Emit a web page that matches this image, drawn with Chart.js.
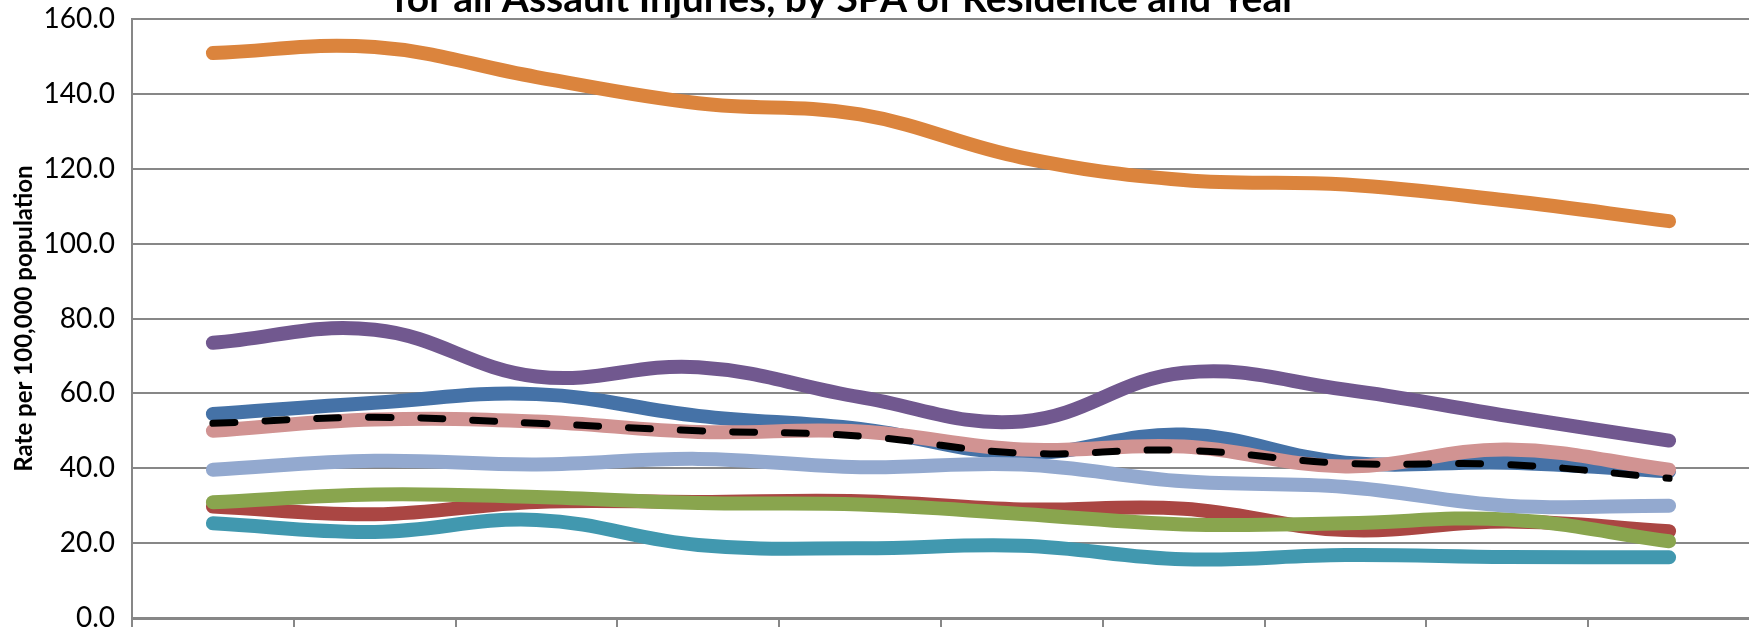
<!DOCTYPE html>
<html>
<head>
<meta charset="utf-8">
<title>Assault Injuries by SPA</title>
<script src="https://cdn.jsdelivr.net/npm/chart.js@4.4.1/dist/chart.umd.min.js"></script>
<style>
  html, body { margin: 0; padding: 0; background: #fff; overflow: hidden; }
  #wrap { position: relative; width: 1752px; height: 690px; }
</style>
</head>
<body>
<div id="wrap"><canvas id="chart"></canvas></div>
<script>
// data (rate per 100,000)
const years = ["2001", "2002", "2003", "2004", "2005", "2006", "2007", "2008", "2009", "2010"];
const yTickLabels = ["0.0", "20.0", "40.0", "60.0", "80.0", "100.0", "120.0", "140.0", "160.0"];

const antelopeValley = [54.5, 57.5, 59.8, 54.0, 50.5, 44.0, 49.0, 41.5, 41.5, 39.2];
const sanFernando    = [29.8, 27.7, 31.0, 31.0, 31.2, 29.0, 29.2, 23.5, 25.8, 23.2];
const sanGabriel     = [30.9, 33.0, 32.3, 30.7, 30.3, 27.8, 25.0, 25.3, 26.3, 20.5];
const metro          = [73.5, 77.0, 64.5, 67.0, 59.0, 52.5, 65.5, 61.0, 54.0, 47.4];
const west           = [25.3, 23.0, 26.2, 19.5, 18.6, 19.3, 15.7, 16.8, 16.3, 16.2];
const south          = [150.9, 152.5, 144.5, 137.5, 134.5, 123.0, 117.0, 115.8, 111.5, 106.0];
const east           = [39.6, 42.0, 41.0, 42.5, 40.3, 41.0, 36.5, 35.0, 30.0, 30.0];
const southBay       = [50.0, 53.0, 52.5, 49.7, 49.8, 45.0, 45.8, 40.5, 45.0, 39.6];
const laCounty       = [52.0, 53.6, 52.0, 50.0, 48.6, 44.0, 44.8, 41.3, 41.0, 37.3];

const chartTitle = "for all Assault Injuries, by SPA of Residence and Year";
const yTitle = "Rate per 100,000 population";

const series = [
  { label: "Antelope Valley", data: antelopeValley, color: "#4572A7" },
  { label: "San Fernando", data: sanFernando, color: "#AA4643" },
  { label: "San Gabriel", data: sanGabriel, color: "#89A54E" },
  { label: "Metro", data: metro, color: "#71588F" },
  { label: "West", data: west, color: "#4198AF" },
  { label: "South", data: south, color: "#DB843D" },
  { label: "East", data: east, color: "#93A9CF" },
  { label: "South Bay", data: southBay, color: "#D19392" },
];

const datasets = series.map((s, i) => ({
  label: s.label,
  data: s.data,
  borderColor: s.color,
  backgroundColor: s.color,
  borderWidth: 14,
  borderCapStyle: "round",
  borderJoinStyle: "round",
  pointRadius: 0,
  tension: 0.4,
  fill: false,
  order: 20 - i, // later series on top, like Excel
}));

datasets.push({
  label: "LA County",
  data: laCounty,
  borderColor: "#000",
  backgroundColor: "#000",
  borderWidth: 7,
  borderDash: [22, 30],
  borderCapStyle: "round",
  pointRadius: 0,
  tension: 0.4,
  fill: false,
  order: 0,
});

// the title's first line is cropped off in the reference, only the second line shows
const croppedTitle = {
  id: "croppedTitle",
  afterDraw(chart) {
    const ctx = chart.ctx;
    ctx.save();
    ctx.font = "bold 39px Lato";
    ctx.fillStyle = "#000";
    ctx.textAlign = "center";
    ctx.textBaseline = "alphabetic";
    ctx.fillText(chartTitle, 845, 12);
    ctx.restore();
  },
};

const gridGray = "#878787";
const tickFont = { family: "Lato", size: 28 };

new Chart(document.getElementById("chart"), {
  type: "line",
  data: { labels: years, datasets: datasets },
  plugins: [croppedTitle],
  options: {
    responsive: true,
    maintainAspectRatio: false,
    animation: false,
    devicePixelRatio: 1,
    layout: { padding: { top: 19, right: 2, bottom: 0, left: 0 } },
    plugins: {
      legend: { display: false },
      title: { display: false },
      tooltip: { enabled: false },
    },
    scales: {
      x: {
        offset: true,
        grid: { offset: true, drawOnChartArea: false, drawTicks: true, tickLength: 14, color: gridGray, lineWidth: 2 },
        border: { color: gridGray, width: 3 },
        ticks: { font: tickFont, color: "#000" },
        afterFit(scale) { scale.height = 72; },
      },
      y: {
        min: 0,
        max: 160,
        ticks: {
          stepSize: 20,
          padding: 17,
          font: tickFont,
          color: "#000",
          callback: (v, i) => yTickLabels[i],
        },
        grid: { drawTicks: false, color: gridGray, lineWidth: 2 },
        border: { color: gridGray, width: 2 },
        title: {
          display: true,
          text: yTitle,
          color: "#000",
          font: { family: "Lato", size: 24, weight: "bold" },
          padding: { top: 10, bottom: 0 },
        },
        afterFit(scale) {
          scale.width = 132;
          // let the top label hang over the edge instead of pushing the plot down
          scale.paddingTop = 0;
          scale.paddingBottom = 0;
        },
      },
    },
  },
});
</script>
</body>
</html>
